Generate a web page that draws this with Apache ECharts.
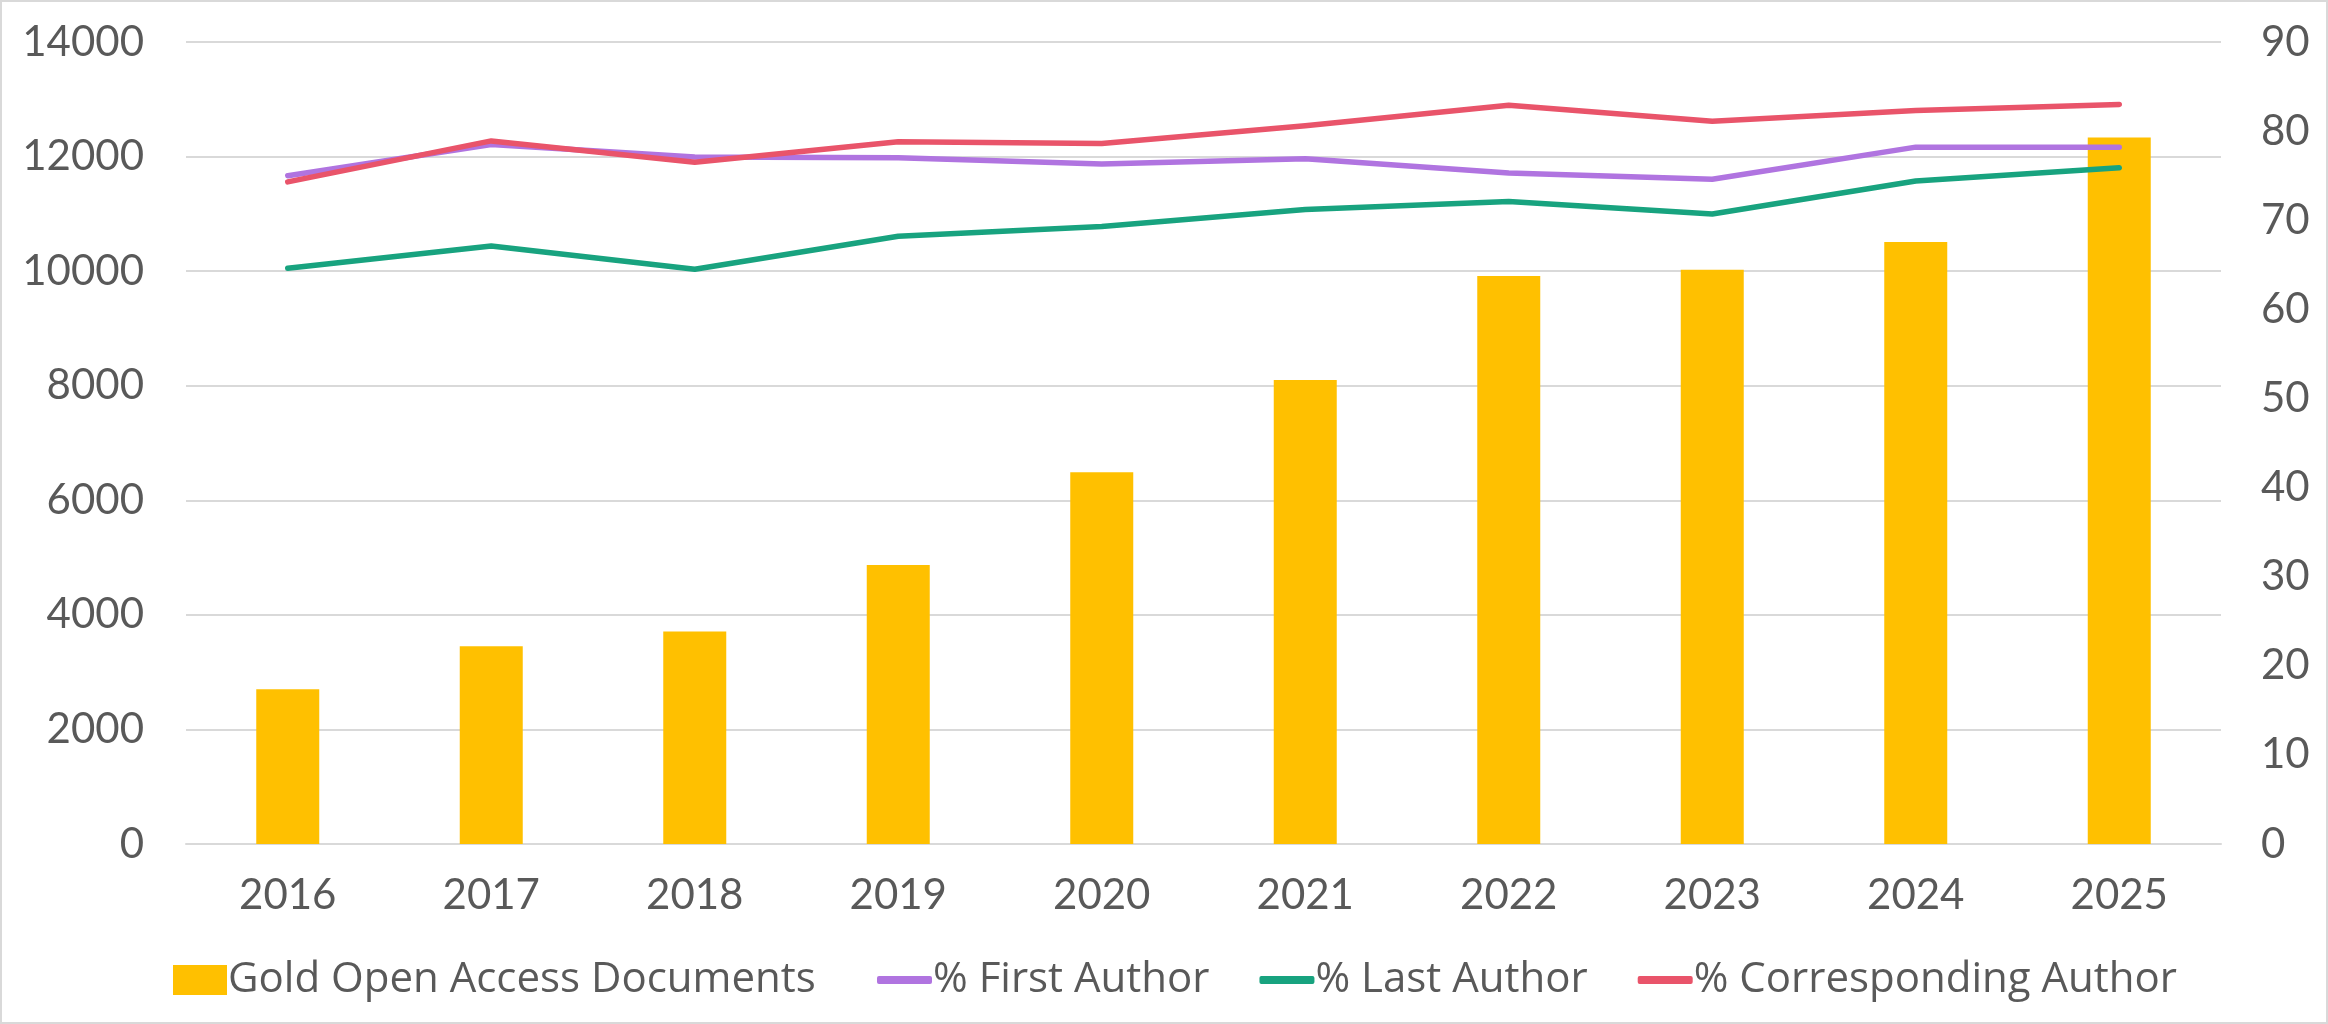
<!DOCTYPE html>
<html>
<head>
<meta charset="utf-8">
<script src="https://cdn.jsdelivr.net/npm/echarts@6/dist/echarts.min.js"></script>
<style>
  html, body { margin: 0; padding: 0; background: #fff; }
  #chart { width: 2328px; height: 1024px; box-sizing: border-box; border: 2px solid #d9d9d9; }
</style>
</head>
<body>
<div id="chart"></div>
<script>
const years = ['2016', '2017', '2018', '2019', '2020', '2021', '2022', '2023', '2024', '2025'];
const goldDocs = [2700, 3450, 3710, 4870, 6490, 8100, 9915, 10025, 10510, 12335];
const firstAuthor = [75.0, 78.5, 77.1, 77.0, 76.3, 76.9, 75.3, 74.6, 78.2, 78.2];
const lastAuthor = [64.6, 67.1, 64.5, 68.2, 69.3, 71.2, 72.1, 70.7, 74.4, 75.9];
const corrAuthor = [74.3, 78.9, 76.5, 78.8, 78.6, 80.6, 82.9, 81.1, 82.3, 83.0];

const font = 'Lato, "Open Sans", sans-serif';
const legendFont = '"Open Sans", Lato, sans-serif';
const grey = '#595959';
const gridColor = '#d9d9d9';

const colors = {
  gold: '#FFC000',
  first: '#B074E0',
  last: '#18A37F',
  corr: '#E9546A'
};

const lineSeries = (name, data, color) => ({
  name: name,
  type: 'line',
  yAxisIndex: 1,
  data: data,
  showSymbol: false,
  symbol: 'none',
  smooth: false,
  itemStyle: { color: color },
  lineStyle: { color: color, width: 5.5, cap: 'round', join: 'round' },
  z: 3
});

const chart = echarts.init(document.getElementById('chart'));
chart.setOption({
  animation: false,
  textStyle: { fontFamily: font },
  grid: { left: 184, right: 105, top: 40, bottom: 178 },
  legend: [
    {
      data: ['Gold Open Access Documents'],
      left: 166,
      top: 952,
      icon: 'rect',
      itemWidth: 54,
      itemHeight: 30,
      textStyle: { fontSize: 42, color: grey, fontFamily: legendFont, padding: [0, 0, 0, -4] }
    },
    {
      data: ['% First Author', '% Last Author', '% Corresponding Author'],
      left: 870,
      top: 952,
      icon: 'roundRect',
      itemWidth: 55,
      itemHeight: 8,
      itemGap: 50,
      textStyle: { fontSize: 42, color: grey, fontFamily: legendFont, padding: [0, 0, 0, -4] }
    }
  ],
  xAxis: {
    type: 'category',
    data: years,
    axisLine: { lineStyle: { color: gridColor, width: 2 } },
    axisTick: { show: false },
    axisLabel: { fontSize: 42, color: grey, margin: 30 }
  },
  yAxis: [
    {
      type: 'value',
      min: 0,
      max: 14000,
      interval: 2000,
      axisLine: { show: false },
      axisTick: { show: false },
      axisLabel: { fontSize: 42, color: grey, margin: 42, formatter: v => String(v) },
      splitLine: { lineStyle: { color: gridColor, width: 2 } }
    },
    {
      type: 'value',
      min: 0,
      max: 90,
      interval: 10,
      axisLine: { show: false },
      axisTick: { show: false },
      axisLabel: { fontSize: 42, color: grey, margin: 40 },
      splitLine: { show: false }
    }
  ],
  series: [
    {
      name: 'Gold Open Access Documents',
      type: 'bar',
      data: goldDocs,
      barWidth: 63,
      itemStyle: { color: colors.gold },
      z: 2
    },
    lineSeries('% First Author', firstAuthor, colors.first),
    lineSeries('% Last Author', lastAuthor, colors.last),
    lineSeries('% Corresponding Author', corrAuthor, colors.corr)
  ]
});

window.addEventListener('resize', () => chart.resize());
</script>
</body>
</html>
